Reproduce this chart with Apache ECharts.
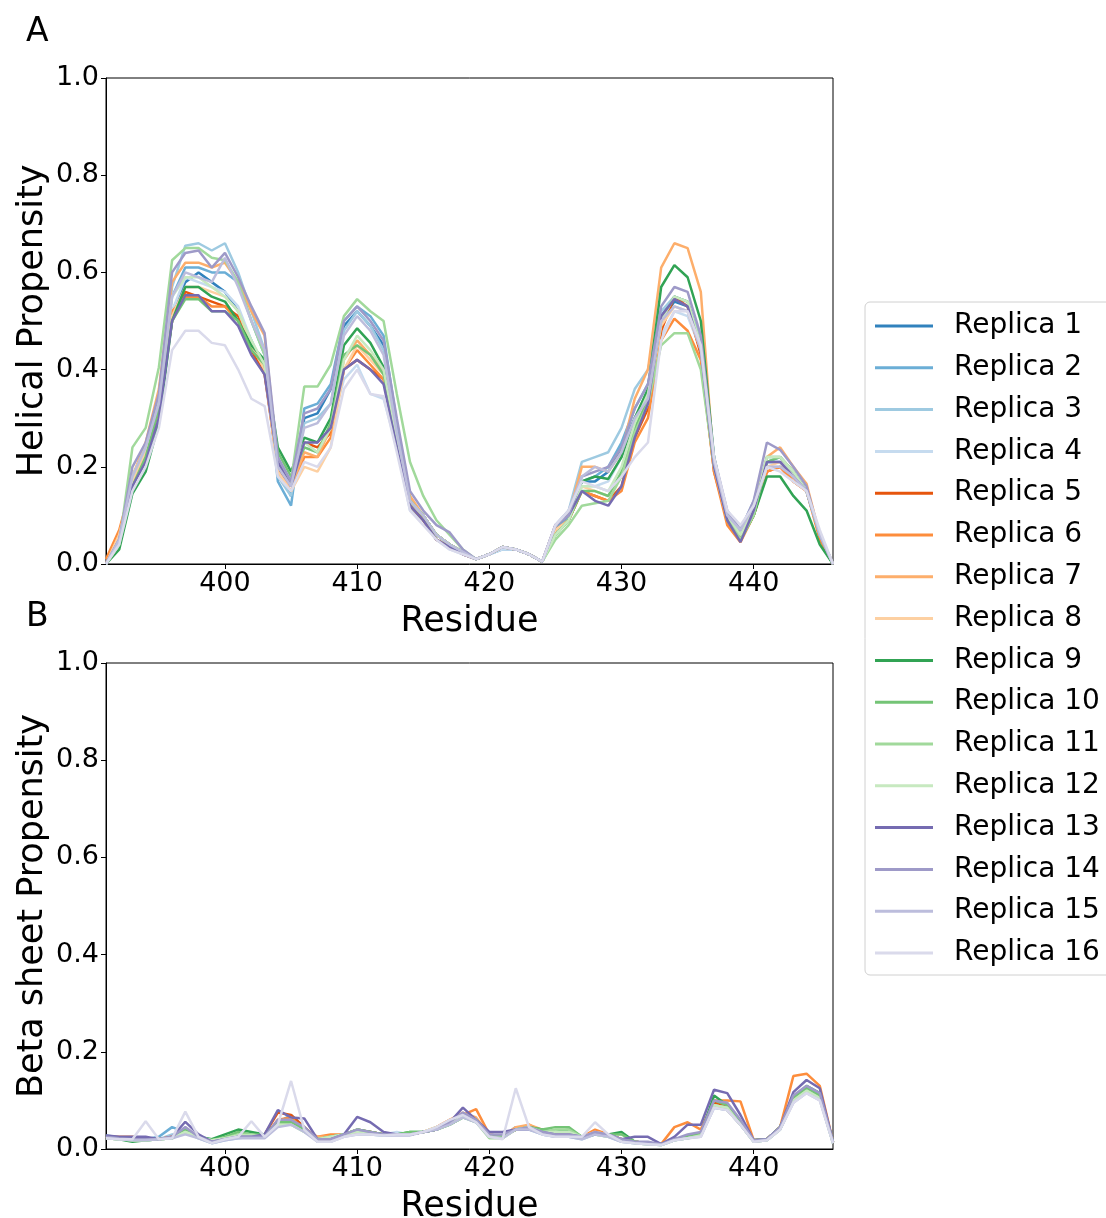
<!DOCTYPE html>
<html>
<head>
<meta charset="utf-8">
<script src="https://cdn.jsdelivr.net/npm/echarts@6/dist/echarts.min.js"></script>
<style>
html,body{margin:0;padding:0;background:#fff;overflow:hidden;width:1106px;height:1218px;}
#chart{position:absolute;left:0;top:0;width:1106px;height:1218px;overflow:hidden;}
</style>
</head>
<body>
<div id="chart"></div>
<script>
// Residues 391..446
const residues = [391,392,393,394,395,396,397,398,399,400,401,402,403,404,405,406,407,408,409,410,411,412,413,414,415,416,417,418,419,420,421,422,423,424,425,426,427,428,429,430,431,432,433,434,435,436,437,438,439,440,441,442,443,444,445,446];
const xTicks = [400,410,420,430,440];
const yTicks = [0,0.2,0.4,0.6,0.8,1.0];
const replicaNames = ["Replica 1","Replica 2","Replica 3","Replica 4","Replica 5","Replica 6","Replica 7","Replica 8","Replica 9","Replica 10","Replica 11","Replica 12","Replica 13","Replica 14","Replica 15","Replica 16"];
const replicaColors = ["#3182bd","#6baed6","#9ecae1","#c6dbef","#e6550d","#fd8d3c","#fdae6b","#fdd0a2","#31a354","#74c476","#a1d99b","#c7e9c0","#756bb1","#9e9ac8","#bcbddc","#dadaeb"];

// Helical propensity
const helix1 = [0.00,0.06,0.17,0.23,0.33,0.52,0.58,0.60,0.58,0.56, 0.52,0.46,0.40,0.20,0.14,0.30,0.31,0.36,0.49,0.52, 0.49,0.45,0.28,0.12,0.09,0.06,0.04,0.025,0.01,0.02, 0.035,0.03,0.02,0.005,0.07,0.10,0.17,0.17,0.19,0.24, 0.30,0.35,0.50,0.54,0.53,0.45,0.21,0.10,0.06,0.12, 0.21,0.21,0.18,0.15,0.06,0.00];
const helix2 = [0.00,0.05,0.18,0.24,0.35,0.55,0.61,0.61,0.60,0.60, 0.58,0.50,0.43,0.17,0.12,0.32,0.33,0.37,0.50,0.53, 0.51,0.47,0.29,0.13,0.10,0.06,0.04,0.02,0.01,0.02, 0.03,0.03,0.02,0.005,0.07,0.10,0.17,0.18,0.20,0.25, 0.32,0.37,0.51,0.55,0.54,0.45,0.20,0.10,0.07,0.12, 0.21,0.22,0.19,0.15,0.06,0.00];
const helix3 = [0.00,0.05,0.17,0.24,0.34,0.57,0.655,0.66,0.645,0.66, 0.60,0.52,0.44,0.18,0.14,0.29,0.30,0.33,0.48,0.52, 0.49,0.44,0.27,0.12,0.09,0.05,0.035,0.02,0.01,0.02, 0.035,0.03,0.02,0.005,0.08,0.11,0.21,0.22,0.23,0.28, 0.36,0.40,0.52,0.55,0.54,0.46,0.22,0.10,0.07,0.13, 0.22,0.22,0.19,0.15,0.06,0.00];
const helix4 = [0.00,0.05,0.16,0.22,0.31,0.52,0.59,0.58,0.57,0.56, 0.53,0.46,0.39,0.19,0.15,0.24,0.23,0.28,0.38,0.41, 0.35,0.34,0.24,0.11,0.09,0.05,0.03,0.02,0.01,0.02, 0.03,0.03,0.02,0.005,0.07,0.09,0.16,0.16,0.17,0.22, 0.28,0.33,0.47,0.52,0.51,0.44,0.21,0.10,0.07,0.11, 0.20,0.20,0.18,0.15,0.06,0.00];
const helix5 = [0.00,0.06,0.16,0.22,0.32,0.50,0.56,0.55,0.54,0.53, 0.51,0.44,0.39,0.20,0.16,0.25,0.24,0.27,0.40,0.42, 0.40,0.38,0.24,0.12,0.09,0.05,0.035,0.02,0.01,0.02, 0.035,0.03,0.02,0.005,0.07,0.09,0.15,0.14,0.13,0.16, 0.26,0.32,0.48,0.55,0.53,0.43,0.19,0.09,0.05,0.10, 0.19,0.20,0.17,0.15,0.06,0.00];
const helix6 = [0.01,0.07,0.17,0.23,0.33,0.52,0.55,0.55,0.53,0.53, 0.50,0.45,0.40,0.19,0.15,0.22,0.22,0.26,0.40,0.44, 0.41,0.38,0.25,0.13,0.10,0.06,0.04,0.025,0.01,0.02, 0.035,0.03,0.02,0.005,0.07,0.09,0.15,0.14,0.13,0.15, 0.25,0.30,0.46,0.505,0.48,0.42,0.19,0.08,0.045,0.10, 0.19,0.20,0.17,0.15,0.05,0.00];
const helix7 = [0.00,0.06,0.18,0.25,0.36,0.58,0.62,0.62,0.61,0.62, 0.58,0.52,0.47,0.21,0.16,0.23,0.22,0.28,0.42,0.46, 0.43,0.40,0.26,0.14,0.10,0.06,0.04,0.025,0.01,0.02, 0.035,0.03,0.02,0.005,0.08,0.10,0.20,0.20,0.19,0.23, 0.34,0.40,0.61,0.66,0.65,0.56,0.20,0.09,0.05,0.11, 0.22,0.24,0.20,0.165,0.06,0.00];
const helix8 = [0.00,0.06,0.17,0.23,0.33,0.51,0.57,0.57,0.56,0.55, 0.52,0.45,0.40,0.19,0.15,0.20,0.19,0.24,0.40,0.45, 0.42,0.39,0.26,0.13,0.10,0.06,0.04,0.025,0.01,0.02, 0.035,0.03,0.02,0.005,0.07,0.09,0.16,0.15,0.14,0.18, 0.27,0.33,0.49,0.53,0.52,0.44,0.20,0.09,0.06,0.11, 0.20,0.21,0.18,0.15,0.06,0.00];
const helix9 = [0.00,0.03,0.145,0.19,0.29,0.50,0.57,0.57,0.55,0.54, 0.50,0.45,0.42,0.24,0.19,0.26,0.25,0.30,0.45,0.485, 0.455,0.405,0.26,0.13,0.10,0.06,0.04,0.025,0.01,0.02, 0.035,0.03,0.02,0.005,0.06,0.09,0.17,0.18,0.175,0.22, 0.30,0.36,0.57,0.615,0.59,0.50,0.22,0.10,0.05,0.10, 0.18,0.18,0.14,0.11,0.04,0.00];
const helix10 = [0.00,0.04,0.16,0.22,0.32,0.50,0.545,0.545,0.52,0.52, 0.50,0.44,0.41,0.23,0.18,0.24,0.23,0.29,0.43,0.45, 0.43,0.39,0.26,0.13,0.10,0.06,0.04,0.025,0.01,0.02, 0.035,0.03,0.02,0.005,0.06,0.09,0.15,0.15,0.14,0.19, 0.28,0.34,0.50,0.55,0.54,0.45,0.21,0.09,0.05,0.10, 0.21,0.22,0.19,0.15,0.06,0.00];
const helix11 = [0.00,0.04,0.24,0.28,0.405,0.625,0.65,0.65,0.63,0.625, 0.58,0.50,0.43,0.20,0.17,0.365,0.365,0.41,0.51,0.545, 0.52,0.50,0.35,0.21,0.14,0.09,0.06,0.03,0.01,0.02, 0.035,0.03,0.02,0.005,0.05,0.08,0.12,0.125,0.13,0.18, 0.27,0.33,0.45,0.475,0.475,0.40,0.20,0.10,0.05,0.10, 0.22,0.22,0.19,0.15,0.06,0.00];
const helix12 = [0.00,0.05,0.18,0.24,0.34,0.55,0.59,0.59,0.57,0.55, 0.52,0.46,0.41,0.21,0.16,0.25,0.23,0.28,0.42,0.47, 0.44,0.40,0.26,0.13,0.10,0.06,0.04,0.025,0.01,0.02, 0.035,0.03,0.02,0.005,0.06,0.09,0.16,0.16,0.15,0.20, 0.29,0.35,0.50,0.55,0.54,0.45,0.21,0.10,0.06,0.11, 0.22,0.22,0.19,0.15,0.06,0.00];
const helix13 = [0.00,0.05,0.16,0.21,0.30,0.50,0.553,0.553,0.52,0.52, 0.49,0.43,0.39,0.21,0.16,0.25,0.25,0.28,0.40,0.42, 0.40,0.37,0.24,0.12,0.09,0.05,0.035,0.02,0.01,0.02, 0.035,0.03,0.02,0.005,0.08,0.10,0.15,0.13,0.12,0.16, 0.26,0.33,0.51,0.545,0.53,0.44,0.20,0.09,0.045,0.11, 0.21,0.21,0.18,0.15,0.06,0.00];
const helix14 = [0.00,0.05,0.20,0.25,0.35,0.60,0.64,0.645,0.61,0.64, 0.59,0.53,0.475,0.22,0.17,0.31,0.32,0.36,0.50,0.53, 0.50,0.46,0.30,0.15,0.11,0.08,0.065,0.03,0.01,0.02, 0.035,0.03,0.02,0.005,0.08,0.10,0.18,0.19,0.20,0.24, 0.32,0.37,0.53,0.57,0.56,0.47,0.22,0.11,0.07,0.13, 0.25,0.235,0.20,0.16,0.06,0.00];
const helix15 = [0.00,0.05,0.18,0.24,0.33,0.55,0.60,0.59,0.58,0.63, 0.57,0.50,0.44,0.20,0.16,0.28,0.29,0.33,0.47,0.51, 0.48,0.43,0.27,0.13,0.10,0.06,0.04,0.025,0.01,0.02, 0.035,0.03,0.02,0.005,0.08,0.11,0.18,0.20,0.19,0.23, 0.30,0.34,0.50,0.53,0.52,0.44,0.21,0.10,0.07,0.12, 0.20,0.20,0.18,0.15,0.06,0.00];
const helix16 = [0.00,0.04,0.15,0.20,0.28,0.44,0.48,0.48,0.455,0.45, 0.40,0.34,0.325,0.18,0.15,0.21,0.20,0.24,0.36,0.40, 0.35,0.345,0.23,0.11,0.08,0.05,0.03,0.02,0.01,0.02, 0.035,0.03,0.02,0.005,0.08,0.11,0.17,0.16,0.15,0.18, 0.22,0.25,0.46,0.52,0.52,0.45,0.22,0.11,0.08,0.12, 0.20,0.19,0.17,0.15,0.07,0.00];

// Beta sheet propensity
const beta1 = [0.025,0.022,0.02,0.02,0.02,0.025,0.04,0.025,0.015,0.02, 0.025,0.025,0.025,0.055,0.06,0.04,0.02,0.02,0.03,0.035, 0.035,0.03,0.03,0.03,0.035,0.04,0.055,0.07,0.06,0.03, 0.025,0.04,0.045,0.035,0.03,0.03,0.025,0.035,0.03,0.02, 0.015,0.012,0.01,0.02,0.025,0.03,0.095,0.085,0.055,0.018, 0.02,0.045,0.105,0.125,0.11,0.015];
const beta2 = [0.028,0.024,0.02,0.02,0.025,0.045,0.035,0.025,0.015,0.02, 0.025,0.025,0.03,0.055,0.07,0.045,0.02,0.02,0.03,0.035, 0.035,0.03,0.03,0.03,0.035,0.04,0.055,0.07,0.06,0.03, 0.025,0.045,0.045,0.035,0.03,0.03,0.025,0.035,0.03,0.02, 0.015,0.012,0.01,0.02,0.025,0.03,0.09,0.08,0.05,0.018, 0.02,0.045,0.10,0.12,0.11,0.015];
const beta3 = [0.025,0.022,0.02,0.018,0.02,0.03,0.035,0.022,0.012,0.018, 0.022,0.025,0.025,0.05,0.055,0.04,0.015,0.015,0.028,0.03, 0.03,0.028,0.03,0.03,0.035,0.04,0.055,0.065,0.055,0.028, 0.025,0.04,0.04,0.03,0.025,0.025,0.02,0.03,0.025,0.015, 0.012,0.01,0.008,0.018,0.022,0.028,0.085,0.08,0.05,0.015, 0.018,0.04,0.10,0.12,0.105,0.012];
const beta4 = [0.025,0.022,0.02,0.02,0.02,0.025,0.035,0.025,0.015,0.02, 0.025,0.025,0.025,0.05,0.055,0.04,0.02,0.02,0.03,0.035, 0.035,0.03,0.035,0.03,0.035,0.04,0.06,0.07,0.06,0.03, 0.025,0.04,0.045,0.035,0.03,0.03,0.025,0.035,0.03,0.02, 0.015,0.012,0.01,0.02,0.025,0.03,0.09,0.08,0.05,0.018, 0.02,0.045,0.10,0.12,0.105,0.015];
const beta5 = [0.025,0.022,0.022,0.02,0.02,0.025,0.04,0.025,0.015,0.02, 0.025,0.028,0.03,0.075,0.07,0.045,0.02,0.02,0.03,0.035, 0.035,0.03,0.03,0.03,0.035,0.04,0.055,0.07,0.06,0.03, 0.025,0.04,0.045,0.035,0.03,0.03,0.025,0.035,0.03,0.02, 0.015,0.012,0.01,0.02,0.025,0.03,0.095,0.09,0.055,0.018, 0.02,0.045,0.105,0.125,0.11,0.015];
const beta6 = [0.025,0.025,0.025,0.02,0.02,0.025,0.04,0.025,0.015,0.02, 0.025,0.025,0.025,0.06,0.065,0.04,0.025,0.03,0.03,0.04, 0.035,0.03,0.03,0.03,0.035,0.045,0.06,0.07,0.082,0.03, 0.025,0.04,0.05,0.035,0.03,0.03,0.025,0.04,0.03,0.02, 0.015,0.012,0.01,0.045,0.055,0.04,0.10,0.10,0.098,0.018, 0.02,0.045,0.15,0.155,0.13,0.015];
const beta7 = [0.025,0.022,0.02,0.02,0.02,0.025,0.04,0.025,0.015,0.02, 0.025,0.025,0.025,0.055,0.06,0.04,0.025,0.025,0.03,0.035, 0.035,0.03,0.03,0.03,0.035,0.045,0.06,0.075,0.065,0.03, 0.025,0.045,0.05,0.04,0.03,0.03,0.025,0.035,0.03,0.02, 0.015,0.012,0.01,0.02,0.025,0.03,0.09,0.085,0.055,0.018, 0.02,0.045,0.105,0.125,0.11,0.015];
const beta8 = [0.025,0.022,0.02,0.02,0.02,0.025,0.035,0.025,0.015,0.02, 0.025,0.025,0.025,0.05,0.055,0.04,0.02,0.025,0.03,0.035, 0.035,0.03,0.03,0.03,0.035,0.04,0.055,0.07,0.06,0.03, 0.025,0.04,0.045,0.035,0.03,0.03,0.025,0.035,0.03,0.02, 0.015,0.012,0.01,0.02,0.025,0.03,0.09,0.08,0.05,0.018, 0.02,0.045,0.10,0.12,0.105,0.015];
const beta9 = [0.022,0.02,0.015,0.018,0.02,0.022,0.04,0.025,0.02,0.03, 0.04,0.035,0.03,0.055,0.055,0.04,0.02,0.025,0.03,0.04, 0.035,0.03,0.03,0.035,0.035,0.04,0.05,0.065,0.06,0.025, 0.025,0.04,0.045,0.04,0.035,0.04,0.025,0.03,0.03,0.035, 0.015,0.012,0.01,0.02,0.025,0.03,0.11,0.09,0.055,0.018, 0.02,0.045,0.105,0.13,0.115,0.015];
const beta10 = [0.022,0.02,0.018,0.018,0.02,0.022,0.04,0.025,0.018,0.025, 0.035,0.03,0.03,0.055,0.055,0.04,0.02,0.025,0.03,0.04, 0.035,0.03,0.03,0.035,0.035,0.04,0.05,0.065,0.06,0.025, 0.025,0.04,0.045,0.04,0.045,0.045,0.025,0.03,0.03,0.03, 0.015,0.012,0.01,0.02,0.025,0.03,0.10,0.09,0.055,0.018, 0.02,0.045,0.105,0.125,0.11,0.015];
const beta11 = [0.022,0.02,0.018,0.018,0.02,0.022,0.035,0.025,0.018,0.022, 0.03,0.03,0.025,0.05,0.05,0.035,0.02,0.025,0.03,0.04, 0.03,0.03,0.03,0.03,0.035,0.04,0.05,0.065,0.055,0.022, 0.022,0.04,0.045,0.035,0.04,0.04,0.025,0.03,0.025,0.02, 0.012,0.01,0.008,0.018,0.022,0.028,0.09,0.085,0.05,0.015, 0.018,0.04,0.10,0.12,0.105,0.012];
const beta12 = [0.022,0.02,0.018,0.018,0.02,0.022,0.035,0.025,0.018,0.022, 0.028,0.028,0.025,0.05,0.05,0.035,0.02,0.025,0.03,0.035, 0.03,0.03,0.03,0.03,0.035,0.045,0.055,0.07,0.06,0.025, 0.022,0.04,0.045,0.035,0.035,0.035,0.025,0.03,0.025,0.02, 0.012,0.01,0.008,0.018,0.022,0.028,0.09,0.085,0.05,0.015, 0.018,0.04,0.10,0.12,0.105,0.012];
const beta13 = [0.028,0.025,0.025,0.025,0.02,0.025,0.056,0.03,0.015,0.02, 0.025,0.025,0.03,0.08,0.065,0.063,0.02,0.02,0.03,0.066, 0.055,0.035,0.03,0.03,0.035,0.04,0.055,0.085,0.06,0.035, 0.035,0.04,0.04,0.035,0.03,0.03,0.025,0.03,0.03,0.02, 0.025,0.025,0.01,0.025,0.05,0.05,0.122,0.115,0.07,0.018, 0.02,0.045,0.117,0.142,0.125,0.015];
const beta14 = [0.025,0.022,0.02,0.02,0.02,0.025,0.045,0.025,0.015,0.02, 0.025,0.025,0.025,0.06,0.06,0.045,0.02,0.02,0.03,0.04, 0.035,0.03,0.03,0.03,0.035,0.04,0.055,0.075,0.06,0.03, 0.03,0.04,0.045,0.035,0.03,0.03,0.025,0.035,0.03,0.02, 0.015,0.015,0.01,0.02,0.03,0.035,0.10,0.095,0.06,0.018, 0.02,0.045,0.11,0.13,0.115,0.015];
const beta15 = [0.022,0.02,0.018,0.018,0.02,0.022,0.03,0.022,0.012,0.018, 0.022,0.022,0.022,0.045,0.05,0.035,0.015,0.015,0.025,0.03, 0.03,0.028,0.028,0.028,0.035,0.04,0.05,0.065,0.055,0.025, 0.022,0.04,0.04,0.03,0.025,0.025,0.02,0.03,0.025,0.015, 0.012,0.01,0.008,0.018,0.022,0.025,0.085,0.08,0.05,0.015, 0.018,0.04,0.095,0.115,0.10,0.012];
const beta16 = [0.022,0.02,0.02,0.057,0.02,0.022,0.077,0.025,0.012,0.02, 0.025,0.057,0.025,0.05,0.14,0.04,0.015,0.015,0.025,0.03, 0.03,0.028,0.03,0.03,0.035,0.045,0.06,0.07,0.055,0.025, 0.02,0.125,0.045,0.03,0.025,0.025,0.025,0.055,0.03,0.015, 0.012,0.01,0.008,0.018,0.022,0.025,0.085,0.08,0.05,0.015, 0.018,0.04,0.095,0.115,0.10,0.012];

const helixData = [helix1,helix2,helix3,helix4,helix5,helix6,helix7,helix8,helix9,helix10,helix11,helix12,helix13,helix14,helix15,helix16];
const betaData = [beta1,beta2,beta3,beta4,beta5,beta6,beta7,beta8,beta9,beta10,beta11,beta12,beta13,beta14,beta15,beta16];

const FONT = "DejaVu Sans";
const chart = echarts.init(document.getElementById('chart'), null, {renderer:'canvas', width:1106, height:1218});

function xAxis(gridIndex){
  return {
    type:'value', gridIndex, min:391, max:446,
    name:'Residue', nameLocation:'middle', nameGap:40, nameMoveOverlap:false,
    nameTextStyle:{fontFamily:FONT, fontSize:35, color:'#000'},
    axisLine:{show:true, onZero:false, lineStyle:{color:'#000', width:1}},
    axisTick:{show:true, inside:false, length:5, lineStyle:{color:'#000'}, customValues:xTicks},
    axisLabel:{fontFamily:FONT, fontSize:27, color:'#000', margin:6, customValues:xTicks, formatter:v=>String(v)},
    splitLine:{show:false}
  };
}
function yAxis(gridIndex, name){
  return {
    type:'value', gridIndex, min:0, max:1, interval:0.2,
    name, nameLocation:'middle', nameGap:56, nameRotate:90, nameMoveOverlap:false,
    nameTextStyle:{fontFamily:FONT, fontSize:35, color:'#000'},
    axisLine:{show:true, lineStyle:{color:'#000', width:1}},
    axisTick:{show:true, inside:false, length:5, lineStyle:{color:'#000'}},
    axisLabel:{fontFamily:FONT, fontSize:27, color:'#000', margin:7, formatter:v=>v.toFixed(1)},
    splitLine:{show:false}
  };
}

const series = [];
for (let i=0;i<16;i++){
  series.push({
    name:replicaNames[i], type:'line', xAxisIndex:0, yAxisIndex:0,
    data:residues.map((r,k)=>[r,helixData[i][k]]),
    showSymbol:false, symbol:'none', lineStyle:{width:2.5, color:replicaColors[i]}, itemStyle:{color:replicaColors[i]},
    z:2+i
  });
}
for (let i=0;i<16;i++){
  series.push({
    name:replicaNames[i], type:'line', xAxisIndex:1, yAxisIndex:1,
    data:residues.map((r,k)=>[r,betaData[i][k]]),
    showSymbol:false, symbol:'none', lineStyle:{width:2.5, color:replicaColors[i]}, itemStyle:{color:replicaColors[i]},
    z:2+i
  });
}

chart.setOption({
  animation:false,
  backgroundColor:'#fff',
  title:[
    {text:'A', left:21, top:11, textStyle:{fontFamily:FONT, fontSize:33, fontWeight:'normal', color:'#000'}},
    {text:'B', left:21, top:596, textStyle:{fontFamily:FONT, fontSize:33, fontWeight:'normal', color:'#000'}}
  ],
  grid:[
    {left:106, top:78, width:727, height:486, outerBoundsMode:'none', containLabel:false, show:true, borderColor:'#000', borderWidth:1, backgroundColor:'transparent'},
    {left:106, top:663, width:727, height:486, outerBoundsMode:'none', containLabel:false, show:true, borderColor:'#000', borderWidth:1, backgroundColor:'transparent'}
  ],
  xAxis:[xAxis(0), xAxis(1)],
  yAxis:[yAxis(0,'Helical Propensity'), yAxis(1,'Beta sheet Propensity')],
  legend:{
    orient:'vertical', left:865, top:302,
    data:replicaNames,
    icon:'rect', itemWidth:58, itemHeight:3, itemGap:13.8,
    padding:[10,40,8,10],
    borderColor:'#d0d0d0', borderWidth:1, borderRadius:5, backgroundColor:'#fff',
    textStyle:{fontFamily:FONT, fontSize:28, color:'#000', lineHeight:28, padding:[0,0,0,16]},
    selectedMode:false
  },
  series
});
</script>
</body>
</html>
